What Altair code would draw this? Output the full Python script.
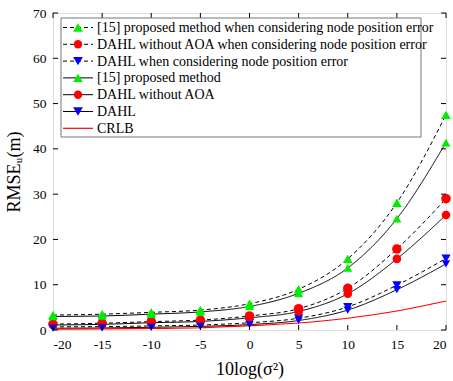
import altair as alt
import pandas as pd

x_vals = [-20, -15, -10, -5, 0, 5, 10, 15, 20]

series_names = [
    "[15] proposed method when considering node position error",
    "DAHL without AOA when considering node position error",
    "DAHL when considering node position error",
    "[15] proposed method",
    "DAHL without AOA",
    "DAHL",
    "CRLB",
]

green_err = [3.3, 3.5, 3.9, 4.4, 5.8, 9.0, 15.7, 28.1, 47.5]
red_err = [1.3, 1.5, 1.85, 2.2, 3.1, 4.7, 9.2, 17.9, 29.0]
blue_err = [0.7, 0.75, 0.9, 1.1, 1.6, 2.6, 5.1, 9.9, 15.8]
green = [3.0, 3.1, 3.5, 4.0, 5.2, 8.1, 13.7, 24.6, 41.4]
red = [1.1, 1.25, 1.6, 1.9, 2.7, 4.1, 8.0, 15.7, 25.4]
blue = [0.4, 0.45, 0.6, 0.8, 1.2, 2.1, 4.4, 8.9, 14.6]
crlb = [0.2, 0.25, 0.35, 0.5, 0.95, 1.55, 2.6, 4.2, 6.4]

x_ticks = [-20, -15, -10, -5, 0, 5, 10, 15, 20]
y_ticks = [0, 10, 20, 30, 40, 50, 60, 70]

all_series = [green_err, red_err, blue_err, green, red, blue, crlb]
styles = ["dash", "dash", "dash", "solid", "solid", "solid", "crlb"]
shapes = ["triangle-up", "circle", "triangle-down", "triangle-up", "circle", "triangle-down", None]
colors = ["#00ee00", "#ff0000", "#0000ff", "#00ee00", "#ff0000", "#0000ff", "#ff0000"]
msizes = [95, 70, 95, 95, 70, 95, 0]

rows = []
for name, vals, st in zip(series_names, all_series, styles):
    for xv, yv in zip(x_vals, vals):
        rows.append({"series": name, "x": xv, "y": yv, "style": st})
df = pd.DataFrame(rows)

FONT = "Liberation Serif"
W, H = 393, 317
TICK = 5

xscale = alt.Scale(domain=[-20, 20], nice=False, zero=False)
yscale = alt.Scale(domain=[0, 70], nice=False)

base = alt.Chart(df)

axis_common = dict(domain=False, grid=False, ticks=False, labelFont=FONT, titleFont=FONT,
                   labelColor="black", titleColor="black", labelFontSize=13.5,
                   titleFontSize=18, titleFontWeight="normal", labelPadding=7,
                   labelExpr="'' + datum.value")

black_lines = base.transform_filter(alt.datum.style != "crlb").mark_line(
    color="black", strokeWidth=1, interpolate="monotone"
).encode(
    x=alt.X("x:Q", scale=xscale, title="10log(σ²)",
            axis=alt.Axis(values=x_ticks, titlePadding=10, **axis_common)),
    y=alt.Y("y:Q", scale=yscale, title="RMSEᵤ(m)",
            axis=alt.Axis(values=y_ticks, titlePadding=9, **axis_common)),
    detail="series:N",
    strokeDash=alt.StrokeDash("style:N", scale=alt.Scale(domain=["dash", "solid"], range=[[4, 3], [1, 0]]), legend=None),
)

crlb_line = base.transform_filter(alt.datum.style == "crlb").mark_line(
    color="#ff0000", strokeWidth=1.2, interpolate="monotone"
).encode(
    x=alt.X("x:Q", scale=xscale),
    y=alt.Y("y:Q", scale=yscale),
)

pt_names = series_names[:6]
points = base.transform_filter(alt.datum.style != "crlb").mark_point(
    filled=True, opacity=1
).encode(
    x=alt.X("x:Q", scale=xscale),
    y=alt.Y("y:Q", scale=yscale),
    shape=alt.Shape("series:N", scale=alt.Scale(domain=pt_names, range=shapes[:6]), legend=None),
    color=alt.Color("series:N", scale=alt.Scale(domain=pt_names, range=colors[:6]), legend=None),
    size=alt.Size("series:N", scale=alt.Scale(domain=pt_names, range=msizes[:6]), legend=None),
)

# inward ticks on all four sides, placed through the shared scales
xt = alt.Data(values=[{"x": v} for v in x_ticks])
yt = alt.Data(values=[{"y": v} for v in y_ticks])
tick_bottom = alt.Chart(xt).mark_rule(color="black", strokeWidth=1).encode(
    x=alt.X("x:Q", scale=xscale), y=alt.value(H), y2=alt.value(H - TICK))
tick_top = alt.Chart(xt).mark_rule(color="black", strokeWidth=1).encode(
    x=alt.X("x:Q", scale=xscale), y=alt.value(0), y2=alt.value(TICK))
tick_left = alt.Chart(yt).mark_rule(color="black", strokeWidth=1).encode(
    y=alt.Y("y:Q", scale=yscale), x=alt.value(0), x2=alt.value(TICK))
tick_right = alt.Chart(yt).mark_rule(color="black", strokeWidth=1).encode(
    y=alt.Y("y:Q", scale=yscale), x=alt.value(W), x2=alt.value(W - TICK))

# legend (manual, in pixel space of the plot area)
one = alt.Data(values=[{}])
leg_x0, leg_x1, leg_y0, leg_y1 = 8, 368, 5, 124
row_y0, row_dy = 14.5, 16.8
legend_layers = [
    alt.Chart(one).mark_rect(fill="white", stroke="#777777", strokeWidth=1).encode(
        x=alt.value(leg_x0), x2=alt.value(leg_x1), y=alt.value(leg_y0), y2=alt.value(leg_y1))
]
for i, name in enumerate(series_names):
    yy = row_y0 + i * row_dy
    st = styles[i]
    if st == "dash":
        rule = alt.Chart(one).mark_rule(color="black", strokeWidth=1, strokeDash=[4, 3])
    elif st == "solid":
        rule = alt.Chart(one).mark_rule(color="black", strokeWidth=1)
    else:
        rule = alt.Chart(one).mark_rule(color="#ff0000", strokeWidth=1.2)
    legend_layers.append(rule.encode(x=alt.value(10), x2=alt.value(40), y=alt.value(yy)))
    if shapes[i] is not None:
        legend_layers.append(alt.Chart(one).mark_point(
            filled=True, opacity=1, size=msizes[i], shape=shapes[i], color=colors[i]
        ).encode(x=alt.value(25), y=alt.value(yy)))
    legend_layers.append(alt.Chart(one).mark_text(
        text=name, align="left", baseline="middle", font=FONT, fontSize=14, color="black"
    ).encode(x=alt.value(44), y=alt.value(yy + 0.5)))

chart = alt.layer(
    black_lines, crlb_line, points, tick_bottom, tick_top, tick_left, tick_right, *legend_layers
).properties(
    width=W, height=H,
    padding={"left": 53, "top": 13, "right": 7, "bottom": 51},
    autosize=alt.AutoSizeParams(type="none"),
).configure_view(stroke="black", strokeWidth=1.2).configure(background="white")

chart.save("out.html", embed_options={"renderer": "svg", "actions": False})
